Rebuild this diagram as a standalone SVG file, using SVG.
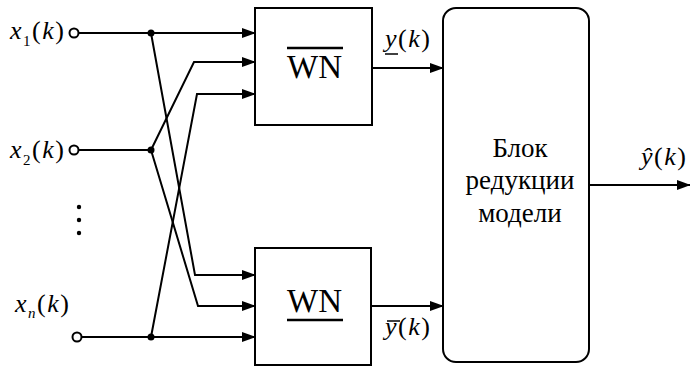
<svg xmlns="http://www.w3.org/2000/svg" width="690" height="367" viewBox="0 0 690 367">
<defs>
<marker id="ah" markerWidth="14" markerHeight="10" refX="13" refY="5" orient="auto" markerUnits="userSpaceOnUse">
<path d="M0,0 L14,5 L0,10 Z" fill="#000"/>
</marker>
<style>
.ln{fill:none;stroke:#000;stroke-width:2;}
.bx{fill:#fff;stroke:#000;stroke-width:2;}
text{font-family:'Liberation Serif','Times New Roman',serif;fill:#000;}
.i{font-style:italic;}
.lab{font-size:26px;letter-spacing:1.5px;}
.dot{fill:#000;}
.port{fill:#fff;stroke:#000;stroke-width:2;}
</style>
</defs>
<rect width="690" height="367" fill="#fff"/>

<g id="inputs" font-family="Liberation Serif, serif">
<text class="lab" x="10" y="39"><tspan class="i">x</tspan><tspan font-size="15" dy="7">1</tspan><tspan dy="-7">(</tspan><tspan class="i">k</tspan>)</text>
<text class="lab" x="10" y="158"><tspan class="i">x</tspan><tspan font-size="15" dy="7">2</tspan><tspan dy="-7">(</tspan><tspan class="i">k</tspan>)</text>
<text class="lab" x="15" y="312"><tspan class="i">x</tspan><tspan class="i" font-size="15" dy="6">n</tspan><tspan dy="-6">(</tspan><tspan class="i">k</tspan>)</text>
<circle class="dot" cx="79" cy="207" r="2.2"/>
<circle class="dot" cx="79" cy="220" r="2.2"/>
<circle class="dot" cx="79" cy="233" r="2.2"/>
</g>

<g id="connectors" font-family="Liberation Serif, serif">
<path class="ln" d="M78,33 H255" marker-end="url(#ah)"/>
<path class="ln" d="M78,150 H151"/>
<path class="ln" d="M81,337 H255" marker-end="url(#ah)"/>
<path class="ln" d="M151,150 L194,62 H255" marker-end="url(#ah)"/>
<path class="ln" d="M151,337 L197,94 H255" marker-end="url(#ah)"/>
<path class="ln" d="M151,33 L195,275 H255" marker-end="url(#ah)"/>
<path class="ln" d="M151,150 L198,306 H255" marker-end="url(#ah)"/>
<path class="ln" d="M372,68 H443" marker-end="url(#ah)"/>
<path class="ln" d="M371,306 H443" marker-end="url(#ah)"/>
<path class="ln" d="M589,185 H690" marker-end="url(#ah)"/>
<circle class="dot" cx="151" cy="33" r="3.5"/>
<circle class="dot" cx="151" cy="150" r="3.5"/>
<circle class="dot" cx="151" cy="337" r="3.5"/>
<circle class="port" cx="74" cy="33" r="4.5"/>
<circle class="port" cx="74" cy="150" r="4.5"/>
<circle class="port" cx="77" cy="337" r="4.5"/>
<text class="lab" x="385" y="47"><tspan class="i">y</tspan>(<tspan class="i">k</tspan>)</text>
<line x1="385" y1="54" x2="398" y2="54" stroke="#000" stroke-width="1.5"/>
<text class="lab" x="385" y="335"><tspan class="i">y</tspan>(<tspan class="i">k</tspan>)</text>
<line x1="387" y1="321" x2="400" y2="321" stroke="#000" stroke-width="1.5"/>
<text class="lab" x="641" y="165"><tspan class="i">ŷ</tspan>(<tspan class="i">k</tspan>)</text>
</g>

<g id="wn-top" font-family="Liberation Serif, serif">
<rect class="bx" x="255" y="8" width="117" height="117"/>
<text x="314.5" y="78" font-size="33" text-anchor="middle">WN</text>
<line x1="287" y1="48" x2="343" y2="48" stroke="#000" stroke-width="2.5"/>
</g>

<g id="wn-bottom" font-family="Liberation Serif, serif">
<rect class="bx" x="255" y="248" width="116" height="117"/>
<text x="314.5" y="312" font-size="33" text-anchor="middle">WN</text>
<line x1="287" y1="320" x2="343" y2="320" stroke="#000" stroke-width="2.5"/>
</g>

<g id="reduction" font-family="Liberation Serif, serif">
<rect class="bx" x="443" y="8" width="146" height="354" rx="13" ry="13"/>
<text x="520" y="157" font-size="27" text-anchor="middle">Блок</text>
<text x="520" y="189" font-size="27" text-anchor="middle">редукции</text>
<text x="520" y="222" font-size="27" text-anchor="middle">модели</text>
</g>
</svg>
